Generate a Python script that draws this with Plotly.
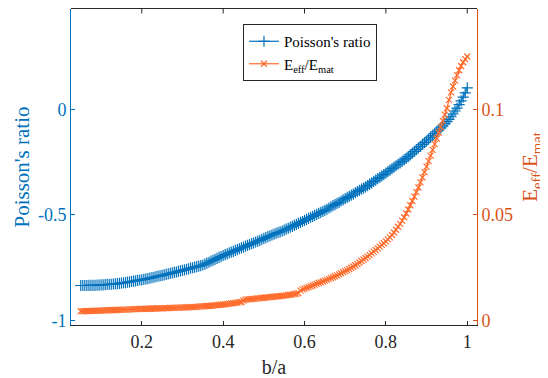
import plotly.graph_objects as go

# b/a values (step 0.005 from 0.05 to 1.0)
b_over_a = [round(0.05 + 0.005 * i, 3) for i in range(191)]

poisson_ratio = [
    -0.834, -0.834, -0.834, -0.834, -0.833, -0.833, -0.833, -0.833, -0.832, -0.832,
    -0.831, -0.831, -0.830, -0.829, -0.828, -0.828, -0.827, -0.826, -0.825, -0.824,
    -0.823, -0.821, -0.820, -0.818, -0.817, -0.815, -0.813, -0.812, -0.810, -0.808,
    -0.807, -0.805, -0.803, -0.801, -0.799, -0.797, -0.795, -0.792, -0.790, -0.788,
    -0.786, -0.784, -0.781, -0.779, -0.777, -0.774, -0.772, -0.770, -0.767, -0.765,
    -0.762, -0.760, -0.757, -0.755, -0.752, -0.750, -0.747, -0.745, -0.742, -0.740,
    -0.737, -0.733, -0.728, -0.724, -0.719, -0.715, -0.710, -0.706, -0.701, -0.697,
    -0.692, -0.688, -0.684, -0.680, -0.676, -0.672, -0.668, -0.664, -0.660, -0.656,
    -0.652, -0.648, -0.644, -0.640, -0.636, -0.632, -0.628, -0.624, -0.620, -0.616,
    -0.611, -0.607, -0.603, -0.599, -0.595, -0.591, -0.587, -0.583, -0.580, -0.576,
    -0.572, -0.567, -0.563, -0.558, -0.554, -0.549, -0.545, -0.540, -0.535, -0.531,
    -0.526, -0.521, -0.516, -0.511, -0.507, -0.502, -0.497, -0.493, -0.488, -0.483,
    -0.478, -0.473, -0.467, -0.462, -0.456, -0.451, -0.445, -0.440, -0.434, -0.429,
    -0.423, -0.417, -0.412, -0.406, -0.401, -0.395, -0.389, -0.384, -0.378, -0.373,
    -0.367, -0.361, -0.354, -0.348, -0.341, -0.335, -0.328, -0.322, -0.315, -0.309,
    -0.302, -0.295, -0.288, -0.281, -0.274, -0.267, -0.260, -0.253, -0.246, -0.239,
    -0.232, -0.224, -0.216, -0.207, -0.199, -0.191, -0.183, -0.175, -0.166, -0.158,
    -0.150, -0.141, -0.132, -0.123, -0.114, -0.105, -0.097, -0.088, -0.078, -0.068,
    -0.058, -0.048, -0.035, -0.022, -0.008, 0.006, 0.022, 0.040, 0.058, 0.078,
    0.102,
]

e_eff_over_e_mat = [
    0.0044, 0.0044, 0.0045, 0.0045, 0.0045, 0.0046, 0.0046, 0.0046, 0.0047, 0.0047,
    0.0047, 0.0048, 0.0048, 0.0048, 0.0049, 0.0049, 0.0050, 0.0050, 0.0050, 0.0051,
    0.0051, 0.0052, 0.0052, 0.0052, 0.0053, 0.0053, 0.0054, 0.0054, 0.0054, 0.0055,
    0.0055, 0.0055, 0.0056, 0.0056, 0.0056, 0.0057, 0.0057, 0.0057, 0.0058, 0.0058,
    0.0058, 0.0059, 0.0059, 0.0059, 0.0060, 0.0060, 0.0060, 0.0061, 0.0061, 0.0061,
    0.0062, 0.0062, 0.0063, 0.0063, 0.0064, 0.0064, 0.0065, 0.0065, 0.0066, 0.0067,
    0.0067, 0.0068, 0.0069, 0.0069, 0.0070, 0.0071, 0.0072, 0.0073, 0.0074, 0.0075,
    0.0076, 0.0077, 0.0078, 0.0080, 0.0081, 0.0082, 0.0084, 0.0085, 0.0087, 0.0088,
    0.0095, 0.0099, 0.0100, 0.0101, 0.0102, 0.0103, 0.0104, 0.0105, 0.0106, 0.0107,
    0.0108, 0.0109, 0.0110, 0.0111, 0.0112, 0.0113, 0.0114, 0.0115, 0.0116, 0.0117,
    0.0118, 0.0119, 0.0121, 0.0122, 0.0124, 0.0125, 0.0127, 0.0130, 0.0142, 0.0148,
    0.0151, 0.0155, 0.0158, 0.0162, 0.0166, 0.0170, 0.0174, 0.0178, 0.0181, 0.0185,
    0.0189, 0.0193, 0.0197, 0.0201, 0.0205, 0.0210, 0.0214, 0.0219, 0.0224, 0.0229,
    0.0234, 0.0239, 0.0244, 0.0250, 0.0256, 0.0262, 0.0268, 0.0275, 0.0282, 0.0289,
    0.0296, 0.0303, 0.0310, 0.0318, 0.0326, 0.0334, 0.0342, 0.0350, 0.0358, 0.0366,
    0.0375, 0.0384, 0.0394, 0.0405, 0.0417, 0.0430, 0.0444, 0.0458, 0.0473, 0.0489,
    0.0507, 0.0526, 0.0546, 0.0566, 0.0587, 0.0608, 0.0630, 0.0654, 0.0678, 0.0703,
    0.0729, 0.0755, 0.0781, 0.0808, 0.0835, 0.0862, 0.0889, 0.0917, 0.0945, 0.0975,
    0.1005, 0.1045, 0.1080, 0.1108, 0.1136, 0.1162, 0.1185, 0.1205, 0.1223, 0.1238,
    0.1250,
]

x_tick_vals = [0.2, 0.4, 0.6, 0.8, 1.0]
x_tick_text = ["0.2", "0.4", "0.6", "0.8", "1"]
y1_tick_vals = [-1.0, -0.5, 0.0]
y1_tick_text = ["-1", "-0.5", "0"]
y2_tick_vals = [0.0, 0.05, 0.1]
y2_tick_text = ["0", "0.05", "0.1"]

BLUE = "#0072BD"
ORANGE_LINE = "#FF6B2B"
ORANGE_AX = "#D95319"
DARK = "#262626"
FONT = "Liberation Serif"
X_RANGE = [0.026, 1.024]
TOP = 1.0016  # half a pixel above the plot area, so the 1px frame line is crisp

fig = go.Figure()
fig.add_trace(go.Scatter(
    x=b_over_a, y=poisson_ratio, name="Poisson's ratio",
    mode="lines+markers",
    line=dict(color=BLUE, width=1.2),
    marker=dict(symbol="cross-thin", size=8, line=dict(color=BLUE, width=1.2)),
    yaxis="y",
))
fig.add_trace(go.Scatter(
    x=b_over_a, y=e_eff_over_e_mat, name="E<sub>eff</sub>/E<sub>mat</sub>",
    mode="lines+markers",
    line=dict(color=ORANGE_LINE, width=1.2),
    marker=dict(symbol="x-thin", size=6, line=dict(color=ORANGE_LINE, width=1.2)),
    yaxis="y2",
))

# top frame line of the axes box and its inward tick marks
fig.add_shape(type="line", xref="paper", yref="paper", x0=0, x1=1, y0=TOP, y1=TOP,
              line=dict(color=DARK, width=1), layer="above")
for v in x_tick_vals:
    fig.add_shape(type="line", xref="x", yref="paper", x0=v, x1=v,
                  ysizemode="pixel", yanchor=TOP, y0=0, y1=-5,
                  line=dict(color=DARK, width=1), layer="above")

# page body has an 8px margin: figure is 540x370 placed at (8, 8)
fig.update_layout(
    width=540, height=370,
    margin=dict(l=63, r=71, t=1, b=53, autoexpand=False),
    paper_bgcolor="white", plot_bgcolor="white",
    font=dict(family=FONT, size=18, color=DARK),
    showlegend=True,
    legend=dict(
        x=0.4236, y=0.9525, xanchor="left", yanchor="top",
        bgcolor="white", bordercolor=DARK, borderwidth=1,
        font=dict(family=FONT, size=15, color="black"),
        tracegroupgap=0, itemwidth=30,
    ),
    xaxis=dict(
        range=X_RANGE, tickmode="array",
        tickvals=x_tick_vals, ticktext=x_tick_text,
        ticks="inside", ticklen=4, tickcolor=DARK, tickwidth=1,
        showline=True, linecolor=DARK, linewidth=1,
        showgrid=False, zeroline=False, automargin=False,
        tickfont=dict(family=FONT, size=18, color=DARK),
        title=dict(text="b/a", font=dict(family=FONT, size=20, color=DARK), standoff=11),
    ),
    yaxis=dict(
        range=[-1.021, 0.475], tickmode="array",
        tickvals=y1_tick_vals, ticktext=y1_tick_text,
        ticks="inside", ticklen=4, tickcolor=BLUE, tickwidth=1,
        showline=True, linecolor=BLUE, linewidth=1,
        showgrid=False, zeroline=False, automargin=False,
        tickfont=dict(family=FONT, size=18, color=BLUE),
        title=dict(text="Poisson's ratio", font=dict(family=FONT, size=21, color=BLUE), standoff=2),
    ),
    yaxis2=dict(
        range=[-0.0021, 0.1475], tickmode="array",
        tickvals=y2_tick_vals, ticktext=y2_tick_text,
        overlaying="y", side="right", anchor="x",
        ticks="inside", ticklen=4, tickcolor=ORANGE_AX, tickwidth=1,
        showline=True, linecolor=ORANGE_AX, linewidth=1,
        showgrid=False, zeroline=False, automargin=False,
        tickfont=dict(family=FONT, size=18, color=ORANGE_AX),
        title=dict(text="E<sub>eff</sub>/E<sub>mat</sub>", font=dict(family=FONT, size=21, color=ORANGE_AX), standoff=10),
    ),
)

fig.write_html("out.html")
